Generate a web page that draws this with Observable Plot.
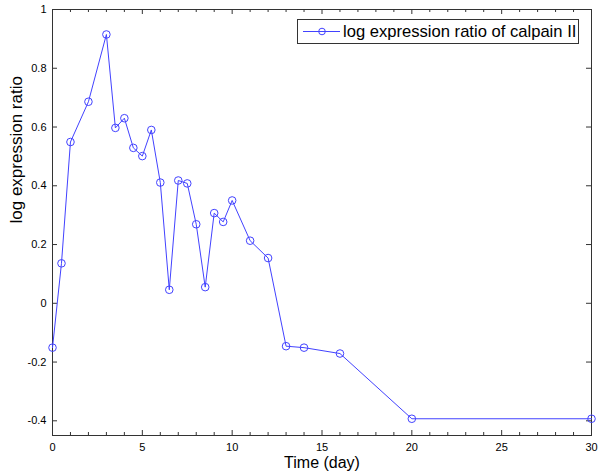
<!DOCTYPE html>
<html>
<head>
<meta charset="utf-8">
<script src="https://cdn.jsdelivr.net/npm/d3@7"></script>
<script src="https://cdn.jsdelivr.net/npm/@observablehq/plot@0.6"></script>
<style>
  body { margin: 0; background: #fff; }
  #chart svg { display: block; }
</style>
</head>
<body>
<div id="chart"></div>
<script>
// ---- data ----
const days   = [0, 0.5, 1, 2, 3, 3.5, 4, 4.5, 5, 5.5, 6, 6.5, 7, 7.5, 8, 8.5, 9, 9.5, 10, 11, 12, 13, 14, 16, 20, 30];
const ratios = [-0.151, 0.136, 0.549, 0.686, 0.915, 0.597, 0.630, 0.529, 0.501, 0.590, 0.411, 0.046, 0.418, 0.408, 0.269, 0.055, 0.307, 0.277, 0.350, 0.213, 0.154, -0.146, -0.151, -0.171, -0.393, -0.393];
const xMajorTicks = [0, 5, 10, 15, 20, 25, 30];
const xMinorTicks = [1, 2, 3, 4, 6, 7, 8, 9, 11, 12, 13, 14, 16, 17, 18, 19, 21, 22, 23, 24, 26, 27, 28, 29];
const yMajorTicks = [-0.4, -0.2, 0, 0.2, 0.4, 0.6, 0.8, 1];
const xDomain = [0, 30];
const yDomain = [-0.45, 1];
const xTitle = "Time (day)";
const yTitle = "log expression ratio";
const seriesName = "log expression ratio of calpain II";

const data = days.map((d, i) => ({day: d, ratio: ratios[i]}));

// ---- layout ----
const W = 600, H = 476;
const mL = 52, mR = 9, mT = 9, mB = 41;
const innerW = W - mL - mR, innerH = H - mT - mB;
const blue = "#4242ff";
const axisColor = "#333";
const font = "'Liberation Sans', Arial, Helvetica, sans-serif";

const chart = Plot.plot({
  width: W,
  height: H,
  marginLeft: mL, marginRight: mR, marginTop: mT, marginBottom: mB,
  style: {fontFamily: font, fontSize: "11px", color: "#000", background: "#fff"},
  x: {domain: xDomain, ticks: xMajorTicks},
  y: {domain: yDomain, ticks: yMajorTicks},
  marks: [
    Plot.frame({stroke: axisColor, strokeWidth: 1}),
    // inward ticks (MATLAB style), bottom & top
    Plot.tickX(xMajorTicks, {x: d => d, insetTop: innerH - 5, stroke: axisColor}),
    Plot.tickX(xMajorTicks, {x: d => d, insetBottom: innerH - 5, stroke: axisColor}),
    Plot.tickX(xMinorTicks, {x: d => d, insetTop: innerH - 3, stroke: axisColor}),
    Plot.tickX(xMinorTicks, {x: d => d, insetBottom: innerH - 3, stroke: axisColor}),
    // inward ticks, left & right
    Plot.tickY(yMajorTicks, {y: d => d, insetRight: innerW - 5, stroke: axisColor}),
    Plot.tickY(yMajorTicks, {y: d => d, insetLeft: innerW - 5, stroke: axisColor}),
    Plot.axisX(xMajorTicks, {tickSize: 0, tickPadding: 8, label: null, fill: "#000", tickFormat: d => String(d)}),
    Plot.axisY(yMajorTicks, {tickSize: 0, tickPadding: 6, label: null, fill: "#000", tickFormat: d => String(+d.toFixed(1))}),
    Plot.line(data, {x: "day", y: "ratio", stroke: blue, strokeWidth: 1}),
    Plot.dot(data, {x: "day", y: "ratio", r: 3.8, stroke: blue, strokeWidth: 1, fill: "none"}),
    Plot.text([xTitle], {text: d => d, frameAnchor: "bottom", dy: 32, fontSize: 16, fill: "#000"}),
    Plot.text([yTitle], {text: d => d, frameAnchor: "left", rotate: -90, dx: -36, dy: 1, fontSize: 17, fill: "#000"})
  ]
});

// ---- legend (inside the plot area, top-right) ----
const svg = d3.select(chart);
const lgRight = W - mR - 13, lgTop = mT + 10, lgH = 24, lgW = 281;
const lgLeft = lgRight - lgW;
const lg = svg.append("g").attr("text-anchor", "start");
lg.append("rect")
  .attr("x", lgLeft + 0.5).attr("y", lgTop + 0.5)
  .attr("width", lgW).attr("height", lgH)
  .attr("fill", "#fff").attr("stroke", axisColor);
const cy = lgTop + lgH / 2 + 0.5;
lg.append("line")
  .attr("x1", lgLeft + 6).attr("x2", lgLeft + 43)
  .attr("y1", cy).attr("y2", cy)
  .attr("stroke", blue);
lg.append("circle")
  .attr("cx", lgLeft + 25).attr("cy", cy).attr("r", 3.3)
  .attr("fill", "none").attr("stroke", blue);
lg.append("text")
  .attr("x", lgLeft + 46).attr("y", cy)
  .attr("dy", "0.35em")
  .attr("text-anchor", "start")
  .attr("font-size", 16.6)
  .attr("font-family", font)
  .attr("fill", "#000")
  .text(seriesName);

document.getElementById("chart").appendChild(chart);
</script>
</body>
</html>
